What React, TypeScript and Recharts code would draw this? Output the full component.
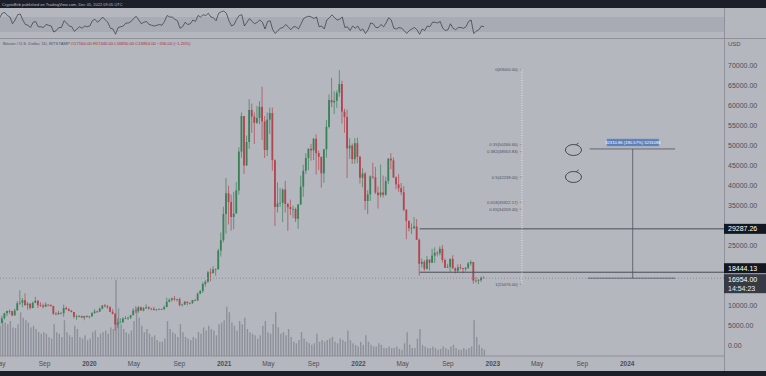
import {
  Bar,
  ComposedChart,
  Line,
  LineChart,
  ReferenceArea,
  ReferenceDot,
  ReferenceLine,
  XAxis,
  YAxis,
} from "recharts";

// weekly candles, prices in thousands USD, first week starts 2019-04-29
const firstOpen = 5.25;
const closes = [
  5.75, 6.95, 8.2, 8.75, 8.7, 7.65, 8.9, 10.7, 10.8, 11.45, 10.2, 10.6, 9.5, 10.8, 11.3, 10.2, 10.1, 9.8, 10.35, 10.3,
  10.0, 8.05, 7.9, 8.3, 8.2, 9.5, 9.2, 8.8, 8.5, 7.3, 7.4, 7.5, 7.1, 7.5, 7.3, 7.4,
  8.2, 8.65, 8.6, 9.35, 10.15, 9.9, 9.7, 8.55, 8.05, 5.35, 5.85, 5.9, 6.85, 6.9, 7.1, 7.7,
  8.9, 8.7, 9.7, 8.9, 9.45, 9.7, 9.35, 9.3, 9.0, 9.1, 9.25, 9.15, 9.7,
  11.05, 11.55, 11.9, 11.65, 11.7, 10.25, 10.35, 11.1, 10.75, 10.7, 11.5, 11.35, 13.1, 13.75, 15.5, 16.05, 18.4, 18.2,
  19.15, 19.25, 23.85, 26.45, 33.0,
  38.2, 36.0, 32.25, 33.1, 38.9, 48.6, 57.5, 45.15, 51.0, 59.0, 57.35, 55.8, 57.0, 59.8, 56.15, 49.0, 56.6, 58.25, 46.45, 34.75,
  35.65, 35.8, 39.1, 35.5, 34.7, 34.25, 34.25, 31.8, 35.4, 39.85, 43.8, 47.0, 49.3, 48.9, 51.8, 48.2, 47.3, 43.15, 49.2, 54.8,
  61.5, 60.9, 61.3, 63.3, 65.5, 58.6, 57.25, 49.4, 50.1, 46.7, 50.7, 47.3,
  42.05, 43.1, 36.25, 37.9, 42.4, 42.2, 38.35, 37.7, 38.4, 37.8, 41.25, 46.85, 46.4, 42.15, 40.4, 39.45, 38.45, 34.05, 31.3, 29.45,
  29.45, 29.9, 26.55, 20.55, 21.05, 19.3, 21.6, 20.8, 22.6, 23.3, 23.2, 24.3, 21.5, 19.55, 19.8, 21.8, 19.4, 18.8, 19.65, 19.45,
  19.25, 19.55, 20.65, 21.0, 16.35, 16.3, 16.45, 17.1, 16.954,
];
const highs = [
  5.9, 7.55, 8.3, 8.85, 9.1, 8.8, 9.35, 11.2, 13.9, 12.0, 13.2, 11.0, 10.6, 11.1, 12.3, 11.5, 10.95, 10.6, 10.9, 10.4,
  10.35, 10.05, 8.5, 8.8, 8.4, 10.35, 9.9, 9.5, 9.0, 8.5, 7.85, 7.75, 7.6, 7.55, 7.7, 7.5,
  8.45, 9.2, 8.8, 9.6, 10.15, 10.5, 10.25, 9.95, 9.2, 8.15, 6.9, 6.95, 7.2, 7.45, 7.3, 7.7,
  9.45, 10.0, 9.95, 9.85, 9.75, 10.4, 9.95, 9.55, 9.8, 9.3, 9.45, 9.35, 10.15,
  12.1, 11.9, 12.1, 12.5, 11.8, 12.1, 10.6, 11.2, 10.95, 10.95, 11.5, 11.7, 13.35, 14.0, 15.95, 16.45, 18.8, 19.4,
  19.9, 19.4, 24.3, 28.4, 34.8,
  41.95, 40.1, 37.85, 38.55, 41.0, 49.7, 58.35, 57.5, 52.6, 61.7, 60.6, 58.4, 60.0, 61.2, 64.85, 57.5, 58.4, 59.6, 59.6, 46.65,
  40.9, 39.5, 39.4, 41.3, 35.75, 36.6, 35.1, 34.6, 35.4, 42.6, 45.3, 48.15, 49.4, 50.5, 52.0, 52.9, 48.85, 47.35, 49.25, 56.5,
  62.9, 67.0, 63.7, 63.9, 69.0, 66.3, 59.3, 59.1, 51.95, 50.6, 51.95, 52.1,
  47.55, 44.45, 43.5, 38.95, 42.65, 45.85, 44.75, 39.85, 45.4, 42.6, 42.3, 47.0, 48.2, 47.1, 42.4, 42.95, 40.75, 40.0, 34.25, 31.3,
  30.65, 32.2, 31.75, 26.9, 21.9, 21.5, 22.5, 21.65, 24.3, 24.65, 23.7, 24.9, 25.2, 21.85, 20.55, 21.85, 22.7, 19.65, 20.4, 20.45,
  19.55, 19.7, 21.0, 21.45, 21.05, 17.2, 16.75, 17.35, 17.44,
];
const lows = [
  5.15, 5.7, 6.6, 7.5, 8.05, 7.45, 7.55, 8.9, 10.3, 9.7, 10.1, 9.1, 9.1, 9.4, 10.7, 9.5, 9.8, 9.4, 9.75, 9.9,
  9.8, 7.8, 7.7, 7.85, 7.9, 7.3, 9.05, 8.7, 8.4, 6.9, 6.55, 7.15, 7.0, 6.45, 7.1, 6.9,
  7.35, 8.1, 8.25, 8.55, 9.15, 9.7, 9.3, 8.45, 7.9, 3.85, 4.45, 5.85, 5.85, 6.75, 6.5, 6.75,
  7.7, 8.15, 8.2, 8.8, 8.65, 9.3, 9.1, 8.95, 8.85, 8.9, 9.1, 9.0, 9.15,
  9.9, 10.95, 11.1, 11.3, 11.15, 9.9, 9.9, 10.25, 10.15, 10.4, 10.55, 11.2, 11.4, 12.95, 13.25, 14.85, 15.85, 16.2,
  18.2, 17.6, 19.0, 22.35, 25.9,
  28.1, 30.4, 28.85, 29.2, 33.4, 37.9, 47.05, 43.0, 45.0, 49.3, 53.3, 50.5, 55.5, 55.5, 51.5, 47.0, 47.5, 53.0, 43.8, 30.0,
  33.4, 34.8, 31.0, 33.35, 28.8, 32.7, 32.05, 31.0, 29.3, 35.2, 37.3, 43.0, 43.95, 46.35, 46.5, 42.85, 44.0, 39.6, 40.8, 47.1,
  54.4, 59.7, 58.0, 59.5, 62.3, 55.6, 53.3, 42.0, 46.8, 45.5, 45.6, 45.7,
  40.6, 39.65, 34.05, 32.95, 36.25, 41.75, 38.0, 34.35, 37.15, 37.15, 37.6, 40.5, 44.2, 42.0, 39.2, 38.55, 37.7, 33.7, 26.7, 28.65,
  28.0, 29.3, 26.55, 17.6, 19.65, 18.8, 19.05, 18.9, 20.75, 20.75, 22.4, 22.65, 20.85, 19.55, 19.55, 18.55, 19.35, 18.15, 18.5, 19.15,
  18.2, 18.65, 19.25, 20.1, 15.6, 15.85, 15.48, 16.0, 16.85,
];
// volume, thousands of BTC (peak day of the week)
const volumes = [
  38, 45, 42, 40, 44, 36, 35, 40, 55, 48, 45, 42, 36, 38, 34, 30, 28, 30, 28, 24, 22, 40, 30, 28, 24, 45, 30, 26, 24, 38,
  34, 24, 22, 26, 20, 22,
  30, 32, 24, 28, 30, 32, 28, 36, 34, 96, 60, 40, 34, 30, 28, 32,
  44, 60, 48, 38, 30, 34, 28, 24, 26, 20, 18, 18, 22,
  44, 34, 30, 28, 24, 40, 30, 24, 22, 20, 24, 22, 30, 28, 36, 32, 38, 34, 32, 26, 40, 42, 45,
  62, 55, 42, 38, 32, 44, 40, 48, 34, 30, 28, 26, 22, 26, 38, 44, 30, 28, 40, 55,
  36, 28, 30, 26, 34, 24, 18, 16, 20, 30, 22, 18, 16, 14, 16, 28, 18, 20, 18, 20, 22, 24, 18, 16, 22, 20, 18, 32, 20, 16,
  14, 12,
  18, 14, 26, 18, 14, 12, 12, 16, 14, 10, 10, 12, 10, 10, 12, 9, 8, 16, 30, 14, 10, 10, 22, 34, 14, 12, 10, 10, 12, 10,
  8, 9, 12, 10, 8, 12, 14, 10, 8, 8, 10, 8, 10, 12, 45, 24, 14, 10, 8,
];
const rsi = [
  68, 80, 82, 74, 70, 52, 62, 76, 78,
  62, 50, 48, 42, 56, 58, 44, 44, 42, 50, 48, 46,
  30, 34, 42, 42, 60, 54, 46, 44, 32, 38, 44, 40, 46, 44, 46,
  60, 64, 56, 62, 70, 62, 56, 40, 38, 24, 42, 44, 46, 54, 54, 58,
  66, 72, 62, 52, 56, 58, 50, 48, 46, 48, 50, 48, 58,
  74, 70, 70, 64, 60, 40, 44, 56, 50, 52, 62, 58, 74, 70, 76, 74, 80, 70, 68, 60, 80, 84, 86,
  80, 60, 46, 50, 64, 74, 76, 46, 56, 66, 58, 52, 56, 62, 56, 38, 58, 60, 36, 26,
  34, 40, 42, 50, 44, 36, 44, 44, 38, 52, 66, 70, 72, 70, 66, 70, 44, 46, 38, 62, 68, 76, 68, 62, 64, 70, 42, 44, 34, 46,
  40, 46,
  34, 38, 26, 36, 54, 52, 42, 42, 50, 44, 54, 68, 62, 40, 38, 42, 40, 34, 26, 34, 38,
  42, 36, 24, 38, 34, 46, 44, 56, 56, 54, 58, 40, 34, 36, 52, 40, 36, 42, 42, 40, 44, 58, 62, 26, 32, 36, 46, 44,
];

const tickDates = [
  "2019-05-01", "2019-09-01", "2020-01-01", "2020-05-01", "2020-09-01", "2021-01-01", "2021-05-01", "2021-09-01",
  "2022-01-01", "2022-05-01", "2022-09-01", "2023-01-01", "2023-05-01", "2023-09-01", "2024-01-01",
];
const tickLabels = ["May", "Sep", "2020", "May", "Sep", "2021", "May", "Sep", "2022", "May", "Sep", "2023", "May", "Sep", "2024"];
// 15000, 20000 and 30000 sit under the price badges and are not shown
const priceTicks = [0, 5000, 10000, 25000, 35000, 40000, 45000, 50000, 55000, 60000, 65000, 70000];

const keyLevels = [29287.26, 18444.13];
const lastPrice = 16954;
const fibHigh = 69000;
const fibLow = 15476;
const fibRatios = [0, 0.35, 0.382, 0.5, 0.618, 0.65, 1];
const rangeText = "32310.86 (190.57%) 3231086";
const rangeTop = 49264.86;
const circleLevels = [49000, 42250];

const DAY = 86400000;
const dayZero = Date.UTC(2020, 0, 1);
const toDay = (s: string) => (Date.parse(s) - dayZero) / DAY;
const firstWeek = toDay("2019-04-29");
const xDomain = [toDay("2019-05-03"), toDay("2024-09-20")];
const ticks = tickDates.map(toDay);

const data = closes.map((c, i) => {
  const o = i === 0 ? firstOpen : closes[i - 1];
  return {
    t: firstWeek + i * 7 + 3,
    o: o * 1000,
    c: c * 1000,
    h: highs[i] * 1000,
    l: lows[i] * 1000,
    hl: [lows[i] * 1000, highs[i] * 1000],
    vol: volumes[i],
    rsi: rsi[i],
  };
});

const BG = "#b4b7be";
const DARK = "#1c1f28";
const AXIS = "#8e919a";
const TEXT = "#4a4e58";
const GREEN = "#3a8158";
const RED = "#b3454f";
const FONT = "'Liberation Sans', Arial, sans-serif";

function Candle(props: any) {
  const { x, y, width, height, payload } = props;
  if (x == null || y == null) return null;
  const k = height / (payload.h - payload.l || 1);
  const yo = y + (payload.h - payload.o) * k;
  const yc = y + (payload.h - payload.c) * k;
  const color = payload.c >= payload.o ? GREEN : RED;
  const cx = x + width / 2;
  return (
    <g>
      <line x1={cx} x2={cx} y1={y} y2={y + height} stroke={color} strokeWidth={0.7} />
      <rect x={x} y={Math.min(yo, yc)} width={width} height={Math.max(Math.abs(yc - yo), 0.7)} fill={color} />
    </g>
  );
}

function TimeTick(props: any) {
  const { x, y, payload } = props;
  const idx = ticks.indexOf(payload.value);
  const label = tickLabels[idx] ?? "";
  const isYear = /^\d{4}$/.test(label);
  return (
    <text x={x} y={y + 8} textAnchor="middle" fontSize={6.5} fill={TEXT} fontWeight={isYear ? 700 : 400} fontFamily={FONT}>
      {label}
    </text>
  );
}

function PriceBadge(props: any) {
  const { viewBox, text, sub, fill, shift = 0 } = props;
  if (!viewBox) return null;
  const x = viewBox.x + viewBox.width;
  const top = viewBox.y + shift;
  const h = sub ? 19 : 10;
  return (
    <g>
      <rect x={x} y={top} width={42} height={h} fill={fill} />
      <text x={x + 4} y={top + 7.5} fontSize={7} fill="#ffffff" fontFamily={FONT}>
        {text}
      </text>
      {sub && (
        <text x={x + 4} y={top + 16.5} fontSize={7} fill="#e8e9ec" fontFamily={FONT}>
          {sub}
        </text>
      )}
    </g>
  );
}

function Ellipse(props: any) {
  const { cx, cy } = props;
  return (
    <g fill="none" stroke="#2b2e36" strokeWidth={0.8}>
      <ellipse cx={cx} cy={cy} rx={8} ry={5.5} />
      <path d={`M${cx + 3} ${cy - 5.5} l2 -1.5`} />
    </g>
  );
}

export default function App() {
  const plotW = 724;
  const chartH = 334;
  const fibDay = toDay("2023-03-21");
  const lineStart = toDay("2022-06-16");
  return (
    <div style={{ position: "relative", width: 766, height: 376, background: BG, overflow: "hidden", fontFamily: FONT }}>
      <style>{"body{margin:0}"}</style>

      {/* top bar */}
      <div style={{ position: "absolute", left: 0, top: 0, width: 766, height: 8, background: DARK }}>
        <span style={{ position: "absolute", left: 2, top: 1.5, fontSize: 4, color: "#b8bbc3", whiteSpace: "nowrap" }}>
          CryptoBirb published on TradingView.com, Dec 05, 2022 09:05 UTC
        </span>
      </div>

      {/* RSI pane */}
      <div style={{ position: "absolute", left: 0, top: 8 }}>
        <LineChart width={plotW} height={30} data={data} margin={{ top: 0, right: 0, bottom: 0, left: 0 }}>
          <XAxis dataKey="t" type="number" domain={xDomain} hide allowDataOverflow />
          <YAxis domain={[14, 94]} hide allowDataOverflow />
          <ReferenceArea y1={30} y2={70} fill="#a8abb3" fillOpacity={1} stroke="none" />
          <Line dataKey="rsi" type="linear" stroke="#33363e" strokeWidth={0.7} dot={false} isAnimationActive={false} />
        </LineChart>
      </div>
      <div style={{ position: "absolute", left: 724, top: 8, width: 1, height: 363, background: AXIS }} />
      <div style={{ position: "absolute", left: 0, top: 38, width: 766, height: 1, background: AXIS }} />

      {/* header */}
      <div style={{ position: "absolute", left: 3, top: 41, fontSize: 4.2, color: "#50545e", whiteSpace: "nowrap" }}>
        Bitcoin / U.S. Dollar, 1D, BITSTAMP{" "}
        <span style={{ color: "#a8323d" }}>O17160.00 H17440.00 L16850.00 C16954.00 −206.00 (−1.20%)</span>
      </div>
      <div style={{ position: "absolute", left: 728, top: 41, fontSize: 6, color: TEXT }}>USD</div>

      {/* volume */}
      <div style={{ position: "absolute", left: 0, top: 38 }}>
        <ComposedChart width={766} height={chartH} data={data} margin={{ top: 0, right: 42, bottom: 16, left: 0 }}>
          <XAxis dataKey="t" type="number" domain={xDomain} hide allowDataOverflow />
          <YAxis yAxisId="vol" domain={[0, 400]} hide allowDataOverflow />
          <Bar yAxisId="vol" dataKey="vol" barSize={1.4} fill="#8d9098" isAnimationActive={false} />
        </ComposedChart>
      </div>

      {/* price */}
      <div style={{ position: "absolute", left: 0, top: 38 }}>
        <ComposedChart width={766} height={chartH} data={data} margin={{ top: 0, right: 0, bottom: 0, left: 0 }}>
          <XAxis
            dataKey="t"
            type="number"
            domain={xDomain}
            ticks={ticks}
            interval={0}
            height={16}
            tickLine={false}
            tickSize={0}
            axisLine={{ stroke: AXIS }}
            tick={<TimeTick />}
            allowDataOverflow
          />
          <YAxis
            orientation="right"
            width={42}
            domain={[-2500, 77000]}
            ticks={priceTicks}
            interval={0}
            tickLine={false}
            tickSize={0}
            tickMargin={4}
            axisLine={false}
            tick={{ fontSize: 7, fill: TEXT, fontFamily: FONT, textAnchor: "start" }}
            tickFormatter={(v: number) => v.toFixed(2)}
            allowDataOverflow
          />
          <ReferenceLine
            y={lastPrice}
            stroke="#8a8d95"
            strokeDasharray="1 2"
            label={<PriceBadge text="16954.00" sub="14:54:23" fill="#363a45" shift={-4} />}
          />
          {keyLevels.map((lv, i) => (
            <ReferenceLine
              key={lv}
              segment={[
                { x: lineStart, y: lv },
                { x: xDomain[1], y: lv },
              ]}
              stroke="#4a4d56"
              strokeWidth={1}
              label={<PriceBadge text={lv.toFixed(2)} fill="#131722" shift={i === 0 ? -5 : -9} />}
            />
          ))}
          <ReferenceLine
            segment={[
              { x: fibDay, y: fibHigh },
              { x: fibDay, y: fibLow },
            ]}
            stroke="#e4e5e8"
            strokeDasharray="1 1.5"
          />
          {fibRatios.map((r) => {
            const p = fibHigh - r * (fibHigh - fibLow);
            return (
              <ReferenceLine
                key={r}
                segment={[
                  { x: fibDay - 6, y: p },
                  { x: fibDay - 2, y: p },
                ]}
                stroke="#6a6e78"
                strokeWidth={0.6}
                label={{
                  value: `${r}(${p.toFixed(2)})`,
                  position: "left",
                  offset: 2,
                  fontSize: 4.2,
                  fill: "#4e525c",
                }}
              />
            );
          })}
          {circleLevels.map((lv) => (
            <ReferenceDot key={lv} x={toDay("2023-08-08")} y={lv} r={6} shape={<Ellipse />} />
          ))}
          <ReferenceLine
            segment={[
              { x: toDay("2023-09-21"), y: rangeTop },
              { x: toDay("2024-05-10"), y: rangeTop },
            ]}
            stroke="#50545d"
            strokeWidth={0.8}
          />
          <ReferenceLine
            segment={[
              { x: toDay("2023-09-16"), y: lastPrice },
              { x: toDay("2024-05-10"), y: lastPrice },
            ]}
            stroke="#50545d"
            strokeWidth={0.8}
          />
          <ReferenceLine
            segment={[
              { x: toDay("2024-01-16"), y: rangeTop },
              { x: toDay("2024-01-16"), y: lastPrice },
            ]}
            stroke="#50545d"
            strokeWidth={0.8}
          />
          <ReferenceArea
            x1={toDay("2023-11-07")}
            x2={toDay("2024-03-27")}
            y1={50000}
            y2={51750}
            fill="#5d7fb9"
            fillOpacity={1}
            stroke="#7a97c8"
            strokeWidth={0.5}
            label={{ value: rangeText, position: "center", fill: "#ffffff", fontSize: 4.2 }}
          />
          <Bar dataKey="hl" barSize={1.8} shape={<Candle />} isAnimationActive={false} />
        </ComposedChart>
      </div>

      <div style={{ position: "absolute", left: 0, top: 371, width: 766, height: 5, background: DARK }} />
    </div>
  );
}
